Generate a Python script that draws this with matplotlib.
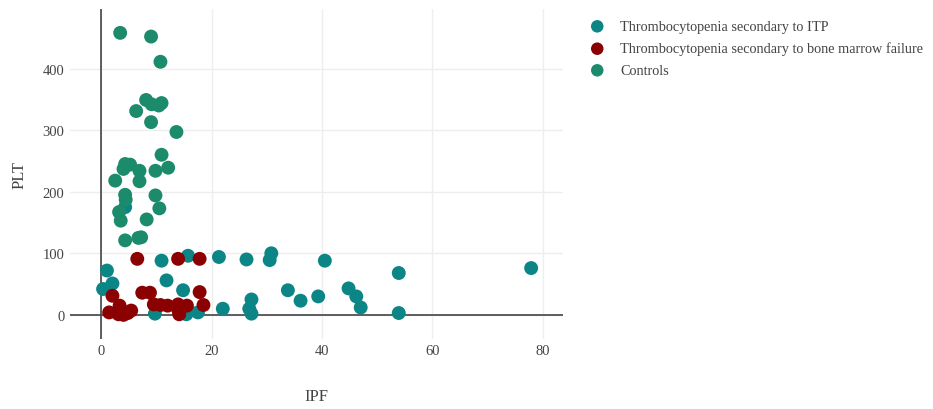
import matplotlib
matplotlib.use("Agg")
import matplotlib.pyplot as plt

plt.rcParams['font.family'] = ['Liberation Serif', 'DejaVu Serif']

# Thrombocytopenia secondary to ITP
itp_ipf = [0.3, 1.0, 2.0, 4.3, 9.7, 10.9, 11.8, 14.8, 15.4, 15.7, 17.5, 21.3, 22.0,
           26.3, 26.8, 27.2, 27.2, 30.5, 30.8, 33.8, 36.1, 39.3, 40.5, 44.8, 46.2,
           47.0, 53.9, 53.9, 77.9]
itp_plt = [42, 72, 51, 175, 2, 88, 56, 40, 1, 96, 4, 94, 10,
           90, 10, 25, 2, 89, 100, 40, 23, 30, 88, 43, 30,
           12, 68, 3, 76]

# Thrombocytopenia secondary to bone marrow failure
bmf_ipf = [6.5, 13.9, 17.8, 2.0, 7.4, 8.8, 17.8, 1.4, 3.3, 3.1, 4.0, 4.8, 5.4,
           9.5, 10.7, 12.0, 13.9, 14.1, 15.5, 18.5, 13.9]
bmf_plt = [91, 91, 91, 31, 36, 36, 37, 4, 15, 1, 0, 3, 7,
           17, 16, 15, 17, 1, 15, 16, 9]

# Controls
ctl_ipf = [3.4, 9.0, 10.7, 8.1, 9.1, 10.9, 10.4, 6.3, 9.0, 13.6, 10.9, 12.1, 9.8,
           4.3, 5.2, 4.0, 6.9, 6.9, 2.5, 4.3, 4.4, 9.8, 10.5, 3.2, 3.5, 8.2,
           4.3, 6.7, 7.2]
ctl_plt = [458, 452, 411, 349, 342, 344, 340, 331, 313, 297, 260, 239, 234,
           245, 244, 237, 234, 217, 218, 195, 187, 194, 173, 167, 153, 155,
           121, 125, 126]

fig = plt.figure(figsize=(9.33, 4.10), dpi=100)
ax = fig.add_axes([0.075, 0.171, 0.528, 0.805])

ax.scatter(itp_ipf, itp_plt, s=100, color='#0b8585', edgecolors='none',
           label='Thrombocytopenia secondary to ITP', zorder=3)
ax.scatter(bmf_ipf, bmf_plt, s=100, color='#8b0000', edgecolors='none',
           label='Thrombocytopenia secondary to bone marrow failure', zorder=3)
ax.scatter(ctl_ipf, ctl_plt, s=100, color='#1c8b6c', edgecolors='none',
           label='Controls', zorder=3)

ax.set_xlim(-5.7, 83.6)
ax.set_ylim(-39, 497)
ax.set_xticks([0, 20, 40, 60, 80])
ax.set_yticks([0, 100, 200, 300, 400])
ax.grid(True, color='#eeeeee', linewidth=1)
ax.set_axisbelow(True)
ax.axhline(0, color='#444444', linewidth=1.2, zorder=2)
ax.axvline(0, color='#444444', linewidth=1.2, zorder=2)
for sp in ax.spines.values():
    sp.set_visible(False)
ax.tick_params(length=0, labelsize=10.5, labelcolor='#444444', pad=4)

ax.set_xlabel('IPF', fontsize=12, color='#444444', labelpad=22)
ax.set_ylabel('PLT', fontsize=12, color='#444444', labelpad=11)

fig.legend(loc='upper left', bbox_to_anchor=(0.611, 0.98), frameon=False,
           fontsize=10.3, labelcolor='#444444', handletextpad=0.6,
           labelspacing=0.6, markerscale=0.9)

fig.savefig('out.png', dpi=100)
